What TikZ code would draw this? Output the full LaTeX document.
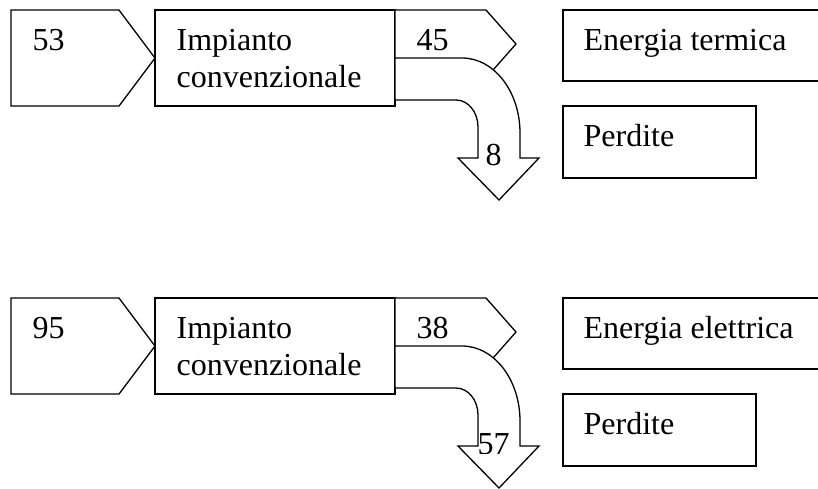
\documentclass[tikz,border=0pt]{standalone}
\usepackage{fontspec}
\setmainfont{Liberation Serif}
\begin{document}
\begin{tikzpicture}[x=1pt,y=-1pt,line width=1.3pt,
  shapeline/.style={draw=black,fill=white,line join=miter},
  txt/.style={anchor=base west,inner sep=0pt,font=\fontsize{32}{37}\selectfont}]
\useasboundingbox (0,0) rectangle (818,488);
\clip (0,0) rectangle (818,488);

% ---------- upper plant: thermal output ----------
\begin{scope}
  \draw[shapeline] (11,10) -- (119,10) -- (155,58) -- (119,106) -- (11,106) -- cycle;
  \draw[shapeline] (155,10) rectangle (395,106);
  \draw[shapeline] (395,10) -- (486,10) -- (516,44) -- (486,78) -- (395,78) -- cycle;
  \draw[shapeline] (395,58) -- (462,58)
     arc[start angle=90,end angle=0,x radius=58pt,y radius=75pt]
     -- (520,158) -- (539,158) -- (499,200) -- (458,158) -- (478,158) -- (478,127)
     arc[start angle=0,end angle=90,x radius=22pt,y radius=27pt]
     -- (395,100) -- cycle;
  \draw[shapeline] (563,10) rectangle (830,81);
  \draw[shapeline] (563,106) rectangle (756,178);
  \node[txt] (inA)   at (32,50)  {53};
  \node[txt] (plA1)  at (176,50) {Impianto};
  \node[txt] (plA2)  at (176,87) {convenzionale};
  \node[txt] (outA)  at (416,50) {45};
  \node[txt] (useA)  at (583,50) {Energia termica};
  \node[txt] (lossA) at (583,146) {Perdite};
  \node[txt] (numlossA) at (485,165) {8};
\end{scope}

% ---------- lower plant: electric output ----------
\begin{scope}[shift={(0,288)}]
  \draw[shapeline] (11,10) -- (119,10) -- (155,58) -- (119,106) -- (11,106) -- cycle;
  \draw[shapeline] (155,10) rectangle (395,106);
  \draw[shapeline] (395,10) -- (486,10) -- (516,44) -- (486,78) -- (395,78) -- cycle;
  \draw[shapeline] (395,58) -- (462,58)
     arc[start angle=90,end angle=0,x radius=58pt,y radius=75pt]
     -- (520,158) -- (539,158) -- (499,200) -- (458,158) -- (478,158) -- (478,127)
     arc[start angle=0,end angle=90,x radius=22pt,y radius=27pt]
     -- (395,100) -- cycle;
  \draw[shapeline] (563,10) rectangle (830,81);
  \draw[shapeline] (563,106) rectangle (756,178);
  \node[txt] (inB)   at (32,50)  {95};
  \node[txt] (plB1)  at (176,50) {Impianto};
  \node[txt] (plB2)  at (176,87) {convenzionale};
  \node[txt] (outB)  at (416,50) {38};
  \node[txt] (useB)  at (583,50) {Energia elettrica};
  \node[txt] (lossB) at (583,146) {Perdite};
  \begin{scope}
    \clip (465,120) rectangle (530,165);
    \node[txt] (numlossB) at (477,166) {57};
  \end{scope}
\end{scope}
\end{tikzpicture}
\end{document}
